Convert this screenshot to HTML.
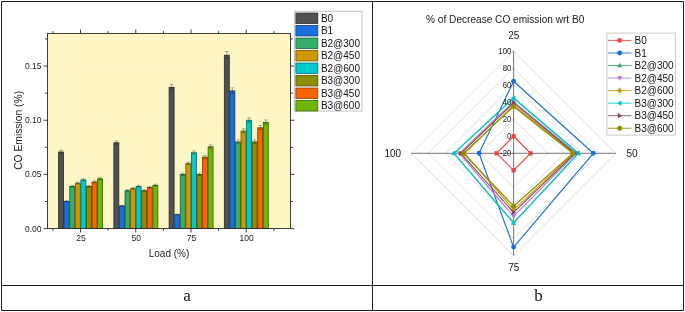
<!DOCTYPE html>
<html><head><meta charset="utf-8"><title>CO emission</title>
<style>html,body{margin:0;padding:0;background:#fff;}body{width:685px;height:312px;overflow:hidden;font-family:"Liberation Sans",sans-serif;}svg{display:block}</style>
</head><body>
<svg width="685" height="312" viewBox="0 0 685 312">
<defs><filter id="bl" x="0" y="0" width="100%" height="100%" color-interpolation-filters="sRGB"><feGaussianBlur stdDeviation="0.32"/></filter></defs>
<g filter="url(#bl)">
<rect width="685" height="312" fill="#fff"/>
<rect x="47.5" y="33.5" width="243.0" height="195.0" fill="#FFF6C6"/>
<path d="M47.5 174.42H290.5M47.5 120.24H290.5M47.5 66.06H290.5M80.50 33.5V228.5M135.75 33.5V228.5M191.00 33.5V228.5M246.20 33.5V228.5" stroke="#EFE8C6" stroke-width="0.7" stroke-dasharray="1 2.3" fill="none"/>
<rect x="58.62" y="152.02" width="4.97" height="76.48" fill="#515151" stroke="#282828" stroke-width="0.8"/>
<rect x="64.19" y="201.54" width="4.97" height="26.96" fill="#1A6FDF" stroke="#0D376F" stroke-width="0.8"/>
<rect x="69.76" y="186.45" width="4.97" height="42.05" fill="#37AD6B" stroke="#1B5635" stroke-width="0.8"/>
<rect x="75.33" y="183.19" width="4.97" height="45.31" fill="#CC9900" stroke="#664C00" stroke-width="0.8"/>
<rect x="80.90" y="179.93" width="4.97" height="48.57" fill="#00CBCC" stroke="#006566" stroke-width="0.8"/>
<rect x="86.47" y="186.45" width="4.97" height="42.05" fill="#8E8E00" stroke="#474700" stroke-width="0.8"/>
<rect x="92.04" y="182.10" width="4.97" height="46.40" fill="#FB6501" stroke="#7D3200" stroke-width="0.8"/>
<rect x="97.61" y="178.84" width="4.97" height="49.66" fill="#6FB802" stroke="#375C01" stroke-width="0.8"/>
<path d="M61.11 150.18V153.26M59.31 150.18h3.6M59.31 153.26h3.6M66.67 200.70V201.79M64.88 200.70h3.6M64.88 201.79h3.6M72.25 185.30V186.99M70.45 185.30h3.6M70.45 186.99h3.6M77.81 181.98V183.80M76.02 181.98h3.6M76.02 183.80h3.6M83.38 178.65V180.61M81.58 178.65h3.6M81.58 180.61h3.6M88.95 185.30V186.99M87.16 185.30h3.6M87.16 186.99h3.6M94.53 180.87V182.74M92.73 180.87h3.6M92.73 182.74h3.6M100.09 177.54V179.54M98.30 177.54h3.6M98.30 179.54h3.6" stroke="#1a1a1a" stroke-width="0.5" fill="none" opacity="0.65"/>
<rect x="113.87" y="142.79" width="4.97" height="85.71" fill="#515151" stroke="#282828" stroke-width="0.8"/>
<rect x="119.44" y="205.99" width="4.97" height="22.51" fill="#1A6FDF" stroke="#0D376F" stroke-width="0.8"/>
<rect x="125.01" y="190.79" width="4.97" height="37.71" fill="#37AD6B" stroke="#1B5635" stroke-width="0.8"/>
<rect x="130.58" y="188.62" width="4.97" height="39.88" fill="#CC9900" stroke="#664C00" stroke-width="0.8"/>
<rect x="136.15" y="186.45" width="4.97" height="42.05" fill="#00CBCC" stroke="#006566" stroke-width="0.8"/>
<rect x="141.72" y="190.79" width="4.97" height="37.71" fill="#8E8E00" stroke="#474700" stroke-width="0.8"/>
<rect x="147.29" y="187.53" width="4.97" height="40.97" fill="#FB6501" stroke="#7D3200" stroke-width="0.8"/>
<rect x="152.86" y="185.36" width="4.97" height="43.14" fill="#6FB802" stroke="#375C01" stroke-width="0.8"/>
<path d="M116.35 140.77V144.21M114.55 140.77h3.6M114.55 144.21h3.6M121.92 205.24V206.15M120.12 205.24h3.6M120.12 206.15h3.6M127.49 189.73V191.25M125.69 189.73h3.6M125.69 191.25h3.6M133.06 187.51V189.12M131.26 187.51h3.6M131.26 189.12h3.6M138.63 185.30V186.99M136.83 185.30h3.6M136.83 186.99h3.6M144.20 189.73V191.25M142.40 189.73h3.6M142.40 191.25h3.6M149.78 186.41V188.06M147.97 186.41h3.6M147.97 188.06h3.6M155.34 184.19V185.93M153.54 184.19h3.6M153.54 185.93h3.6" stroke="#1a1a1a" stroke-width="0.5" fill="none" opacity="0.65"/>
<rect x="169.12" y="87.29" width="4.97" height="141.21" fill="#515151" stroke="#282828" stroke-width="0.8"/>
<rect x="174.69" y="214.68" width="4.97" height="13.82" fill="#1A6FDF" stroke="#0D376F" stroke-width="0.8"/>
<rect x="180.26" y="174.50" width="4.97" height="54.00" fill="#37AD6B" stroke="#1B5635" stroke-width="0.8"/>
<rect x="185.83" y="163.64" width="4.97" height="64.86" fill="#CC9900" stroke="#664C00" stroke-width="0.8"/>
<rect x="191.40" y="152.78" width="4.97" height="75.72" fill="#00CBCC" stroke="#006566" stroke-width="0.8"/>
<rect x="196.97" y="174.50" width="4.97" height="54.00" fill="#8E8E00" stroke="#474700" stroke-width="0.8"/>
<rect x="202.54" y="157.12" width="4.97" height="71.38" fill="#FB6501" stroke="#7D3200" stroke-width="0.8"/>
<rect x="208.11" y="146.81" width="4.97" height="81.69" fill="#6FB802" stroke="#375C01" stroke-width="0.8"/>
<path d="M171.60 84.16V89.82M169.80 84.16h3.6M169.80 89.82h3.6M177.17 214.10V214.66M175.37 214.10h3.6M175.37 214.66h3.6M182.74 173.11V175.29M180.94 173.11h3.6M180.94 175.29h3.6M188.31 162.04V164.64M186.51 162.04h3.6M186.51 164.64h3.6M193.88 150.96V154.00M192.08 150.96h3.6M192.08 154.00h3.6M199.45 173.11V175.29M197.65 173.11h3.6M197.65 175.29h3.6M205.03 155.39V158.26M203.22 155.39h3.6M203.22 158.26h3.6M210.59 144.87V148.15M208.79 144.87h3.6M208.79 148.15h3.6" stroke="#1a1a1a" stroke-width="0.5" fill="none" opacity="0.65"/>
<rect x="224.32" y="55.26" width="4.97" height="173.24" fill="#515151" stroke="#282828" stroke-width="0.8"/>
<rect x="229.89" y="90.88" width="4.97" height="137.62" fill="#1A6FDF" stroke="#0D376F" stroke-width="0.8"/>
<rect x="235.46" y="141.92" width="4.97" height="86.58" fill="#37AD6B" stroke="#1B5635" stroke-width="0.8"/>
<rect x="241.03" y="131.06" width="4.97" height="97.44" fill="#CC9900" stroke="#664C00" stroke-width="0.8"/>
<rect x="246.60" y="120.20" width="4.97" height="108.30" fill="#00CBCC" stroke="#006566" stroke-width="0.8"/>
<rect x="252.17" y="141.92" width="4.97" height="86.58" fill="#8E8E00" stroke="#474700" stroke-width="0.8"/>
<rect x="257.74" y="127.80" width="4.97" height="100.70" fill="#FB6501" stroke="#7D3200" stroke-width="0.8"/>
<rect x="263.31" y="122.37" width="4.97" height="106.13" fill="#6FB802" stroke="#375C01" stroke-width="0.8"/>
<path d="M226.80 51.49V58.43M225.00 51.49h3.6M225.00 58.43h3.6M232.37 87.82V93.34M230.57 87.82h3.6M230.57 93.34h3.6M237.94 139.88V143.36M236.14 139.88h3.6M236.14 143.36h3.6M243.51 128.81V132.71M241.71 128.81h3.6M241.71 132.71h3.6M249.08 117.73V122.07M247.28 117.73h3.6M247.28 122.07h3.6M254.65 139.88V143.36M252.85 139.88h3.6M252.85 143.36h3.6M260.23 125.48V129.52M258.43 125.48h3.6M258.43 129.52h3.6M265.80 119.94V124.20M264.00 119.94h3.6M264.00 124.20h3.6" stroke="#1a1a1a" stroke-width="0.5" fill="none" opacity="0.65"/>
<rect x="47.5" y="33.5" width="243.0" height="195.0" fill="none" stroke="#2a2a2a" stroke-width="0.9"/>
<path d="M47.5 228.60h-4.0M290.5 228.60h4.0M47.5 201.51h-2.4M290.5 201.51h2.4M47.5 174.42h-4.0M290.5 174.42h4.0M47.5 147.33h-2.4M290.5 147.33h2.4M47.5 120.24h-4.0M290.5 120.24h4.0M47.5 93.15h-2.4M290.5 93.15h2.4M47.5 66.06h-4.0M290.5 66.06h4.0M47.5 38.97h-2.4M290.5 38.97h2.4M52.88 228.5v2.4M52.88 33.5v-2.4M80.50 228.5v4.0M80.50 33.5v-4.0M108.12 228.5v2.4M108.12 33.5v-2.4M135.75 228.5v4.0M135.75 33.5v-4.0M163.38 228.5v2.4M163.38 33.5v-2.4M191.00 228.5v4.0M191.00 33.5v-4.0M218.62 228.5v2.4M218.62 33.5v-2.4M246.25 228.5v4.0M246.25 33.5v-4.0M273.88 228.5v2.4M273.88 33.5v-2.4" stroke="#2a2a2a" stroke-width="0.9" fill="none"/>
<text x="41.5" y="231.50" font-size="9" text-anchor="end" textLength="16.5" lengthAdjust="spacingAndGlyphs" font-family="Liberation Sans, sans-serif" fill="#1a1a1a">0.00</text>
<text x="41.5" y="177.32" font-size="9" text-anchor="end" textLength="16.5" lengthAdjust="spacingAndGlyphs" font-family="Liberation Sans, sans-serif" fill="#1a1a1a">0.05</text>
<text x="41.5" y="123.14" font-size="9" text-anchor="end" textLength="16.5" lengthAdjust="spacingAndGlyphs" font-family="Liberation Sans, sans-serif" fill="#1a1a1a">0.10</text>
<text x="41.5" y="68.96" font-size="9" text-anchor="end" textLength="16.5" lengthAdjust="spacingAndGlyphs" font-family="Liberation Sans, sans-serif" fill="#1a1a1a">0.15</text>
<text x="80.90" y="241.3" font-size="9" text-anchor="middle" textLength="9.44" lengthAdjust="spacingAndGlyphs" font-family="Liberation Sans, sans-serif" fill="#1a1a1a">25</text>
<text x="136.15" y="241.3" font-size="9" text-anchor="middle" textLength="9.44" lengthAdjust="spacingAndGlyphs" font-family="Liberation Sans, sans-serif" fill="#1a1a1a">50</text>
<text x="191.40" y="241.3" font-size="9" text-anchor="middle" textLength="9.44" lengthAdjust="spacingAndGlyphs" font-family="Liberation Sans, sans-serif" fill="#1a1a1a">75</text>
<text x="246.60" y="241.3" font-size="9" text-anchor="middle" textLength="14.16" lengthAdjust="spacingAndGlyphs" font-family="Liberation Sans, sans-serif" fill="#1a1a1a">100</text>
<text x="169" y="257.1" font-size="10" text-anchor="middle" font-family="Liberation Sans, sans-serif" fill="#1a1a1a">Load (%)</text>
<text transform="translate(21.6 130.4) rotate(-90)" font-size="10.3" text-anchor="middle" font-family="Liberation Sans, sans-serif" fill="#1a1a1a">CO Emission (%)</text>
<rect x="294.5" y="11.3" width="67.5" height="99.8" fill="#fff" stroke="#BDBDBD" stroke-width="0.9"/>
<rect x="295.9" y="13.05" width="21.9" height="10.4" fill="#515151" stroke="#2C2C2C" stroke-width="0.8"/>
<text x="320.9" y="21.75" font-size="10" font-family="Liberation Sans, sans-serif" fill="#111">B0</text>
<rect x="295.9" y="25.55" width="21.9" height="10.4" fill="#1A6FDF" stroke="#0E3D7A" stroke-width="0.8"/>
<text x="320.9" y="34.25" font-size="10" font-family="Liberation Sans, sans-serif" fill="#111">B1</text>
<rect x="295.9" y="38.05" width="21.9" height="10.4" fill="#37AD6B" stroke="#1E5F3A" stroke-width="0.8"/>
<text x="320.9" y="46.75" font-size="10" font-family="Liberation Sans, sans-serif" fill="#111">B2@300</text>
<rect x="295.9" y="50.55" width="21.9" height="10.4" fill="#CC9900" stroke="#705400" stroke-width="0.8"/>
<text x="320.9" y="59.25" font-size="10" font-family="Liberation Sans, sans-serif" fill="#111">B2@450</text>
<rect x="295.9" y="63.05" width="21.9" height="10.4" fill="#00CBCC" stroke="#006F70" stroke-width="0.8"/>
<text x="320.9" y="71.75" font-size="10" font-family="Liberation Sans, sans-serif" fill="#111">B2@600</text>
<rect x="295.9" y="75.55" width="21.9" height="10.4" fill="#8E8E00" stroke="#4E4E00" stroke-width="0.8"/>
<text x="320.9" y="84.25" font-size="10" font-family="Liberation Sans, sans-serif" fill="#111">B3@300</text>
<rect x="295.9" y="88.05" width="21.9" height="10.4" fill="#FB6501" stroke="#8A3700" stroke-width="0.8"/>
<text x="320.9" y="96.75" font-size="10" font-family="Liberation Sans, sans-serif" fill="#111">B3@450</text>
<rect x="295.9" y="100.55" width="21.9" height="10.4" fill="#6FB802" stroke="#3D6501" stroke-width="0.8"/>
<text x="320.9" y="109.25" font-size="10" font-family="Liberation Sans, sans-serif" fill="#111">B3@600</text>
<path d="M513.6 136.25L530.65 153.3L513.6 170.35L496.55 153.3ZM513.6 119.20L547.70 153.3L513.6 187.40L479.50 153.3ZM513.6 102.15L564.75 153.3L513.6 204.45L462.45 153.3ZM513.6 85.10L581.80 153.3L513.6 221.50L445.40 153.3ZM513.6 68.05L598.85 153.3L513.6 238.55L428.35 153.3ZM513.6 51.00L615.90 153.3L513.6 255.60L411.30 153.3Z" stroke="#D6D6D6" stroke-width="0.8" fill="none"/>
<path d="M513.6 51.00V255.60M411.30 153.3H615.90" stroke="#666" stroke-width="0.9" fill="none"/>
<path d="M513.6 153.30h-1.0M513.6 136.25h-1.0M513.6 119.20h-1.0M513.6 102.15h-1.0M513.6 85.10h-1.0M513.6 68.05h-1.0M513.6 51.00h-1.0" stroke="#6a6a6a" stroke-width="0.6" fill="none"/>
<path d="M513.60 136.25L530.65 153.30L513.60 170.35L496.55 153.30Z" stroke="#F14040" stroke-width="1.15" fill="none" stroke-linejoin="round"/>
<rect x="511.50" y="134.15" width="4.2" height="4.2" fill="#F14040"/>
<rect x="528.55" y="151.20" width="4.2" height="4.2" fill="#F14040"/>
<rect x="511.50" y="168.25" width="4.2" height="4.2" fill="#F14040"/>
<rect x="494.45" y="151.20" width="4.2" height="4.2" fill="#F14040"/>
<path d="M513.60 81.27L593.30 153.30L513.60 247.09L479.05 153.30Z" stroke="#1A6FDF" stroke-width="1.15" fill="none" stroke-linejoin="round"/>
<circle cx="513.60" cy="81.27" r="2.45" fill="#1A6FDF"/>
<circle cx="593.30" cy="153.30" r="2.45" fill="#1A6FDF"/>
<circle cx="513.60" cy="247.09" r="2.45" fill="#1A6FDF"/>
<circle cx="479.05" cy="153.30" r="2.45" fill="#1A6FDF"/>
<path d="M513.60 98.03L578.23 153.30L513.60 222.89L453.98 153.30Z" stroke="#37AD6B" stroke-width="1.15" fill="none" stroke-linejoin="round"/>
<path d="M513.60 95.33l2.6 4.5h-5.2z" fill="#37AD6B"/>
<path d="M578.23 150.60l2.6 4.5h-5.2z" fill="#37AD6B"/>
<path d="M513.60 220.19l2.6 4.5h-5.2z" fill="#37AD6B"/>
<path d="M453.98 150.60l2.6 4.5h-5.2z" fill="#37AD6B"/>
<path d="M513.60 101.64L576.07 153.30L513.60 216.34L459.31 153.30Z" stroke="#B177DE" stroke-width="1.15" fill="none" stroke-linejoin="round"/>
<path d="M513.60 104.34l2.6 -4.5h-5.2z" fill="#B177DE"/>
<path d="M576.07 156.00l2.6 -4.5h-5.2z" fill="#B177DE"/>
<path d="M513.60 219.04l2.6 -4.5h-5.2z" fill="#B177DE"/>
<path d="M459.31 156.00l2.6 -4.5h-5.2z" fill="#B177DE"/>
<path d="M513.60 105.26L573.92 153.30L513.60 209.80L464.65 153.30Z" stroke="#CC9900" stroke-width="1.15" fill="none" stroke-linejoin="round"/>
<path d="M513.60 102.46l2.5 2.8l-2.5 2.8l-2.5 -2.8z" fill="#CC9900"/>
<path d="M573.92 150.50l2.5 2.8l-2.5 2.8l-2.5 -2.8z" fill="#CC9900"/>
<path d="M513.60 207.00l2.5 2.8l-2.5 2.8l-2.5 -2.8z" fill="#CC9900"/>
<path d="M464.65 150.50l2.5 2.8l-2.5 2.8l-2.5 -2.8z" fill="#CC9900"/>
<path d="M513.60 98.03L578.23 153.30L513.60 222.89L453.98 153.30Z" stroke="#00CBCC" stroke-width="1.15" fill="none" stroke-linejoin="round"/>
<path d="M510.90 98.03l4.5 -2.6v5.2z" fill="#00CBCC"/>
<path d="M575.53 153.30l4.5 -2.6v5.2z" fill="#00CBCC"/>
<path d="M510.90 222.89l4.5 -2.6v5.2z" fill="#00CBCC"/>
<path d="M451.28 153.30l4.5 -2.6v5.2z" fill="#00CBCC"/>
<path d="M513.60 102.85L575.00 153.30L513.60 212.42L460.91 153.30Z" stroke="#7D4E4E" stroke-width="1.15" fill="none" stroke-linejoin="round"/>
<path d="M516.30 102.85l-4.5 -2.6v5.2z" fill="#7D4E4E"/>
<path d="M577.70 153.30l-4.5 -2.6v5.2z" fill="#7D4E4E"/>
<path d="M516.30 212.42l-4.5 -2.6v5.2z" fill="#7D4E4E"/>
<path d="M463.61 153.30l-4.5 -2.6v5.2z" fill="#7D4E4E"/>
<path d="M513.60 106.47L572.84 153.30L513.60 206.20L463.58 153.30Z" stroke="#8E8E00" stroke-width="1.15" fill="none" stroke-linejoin="round"/>
<circle cx="513.60" cy="106.47" r="2.5" fill="#8E8E00"/>
<circle cx="572.84" cy="153.30" r="2.5" fill="#8E8E00"/>
<circle cx="513.60" cy="206.20" r="2.5" fill="#8E8E00"/>
<circle cx="463.58" cy="153.30" r="2.5" fill="#8E8E00"/>
<text x="511.40" y="156.05" font-size="8.4" text-anchor="end" textLength="11.29" lengthAdjust="spacingAndGlyphs" font-family="Liberation Sans, sans-serif" fill="#222">-20</text>
<text x="511.40" y="139.00" font-size="8.4" text-anchor="end" textLength="4.34" lengthAdjust="spacingAndGlyphs" font-family="Liberation Sans, sans-serif" fill="#222">0</text>
<text x="511.40" y="121.95" font-size="8.4" text-anchor="end" textLength="8.69" lengthAdjust="spacingAndGlyphs" font-family="Liberation Sans, sans-serif" fill="#222">20</text>
<text x="511.40" y="104.90" font-size="8.4" text-anchor="end" textLength="8.69" lengthAdjust="spacingAndGlyphs" font-family="Liberation Sans, sans-serif" fill="#222">40</text>
<text x="511.40" y="87.85" font-size="8.4" text-anchor="end" textLength="8.69" lengthAdjust="spacingAndGlyphs" font-family="Liberation Sans, sans-serif" fill="#222">60</text>
<text x="511.40" y="70.80" font-size="8.4" text-anchor="end" textLength="8.69" lengthAdjust="spacingAndGlyphs" font-family="Liberation Sans, sans-serif" fill="#222">80</text>
<text x="511.40" y="53.75" font-size="8.4" text-anchor="end" textLength="13.03" lengthAdjust="spacingAndGlyphs" font-family="Liberation Sans, sans-serif" fill="#222">100</text>
<text x="505.2" y="22.9" font-size="10.1" text-anchor="middle" font-family="Liberation Sans, sans-serif" fill="#1a1a1a">% of Decrease CO emission wrt B0</text>
<text x="513.8" y="39.2" font-size="10" text-anchor="middle" font-family="Liberation Sans, sans-serif" fill="#1a1a1a">25</text>
<text x="632" y="156.7" font-size="10" text-anchor="middle" font-family="Liberation Sans, sans-serif" fill="#1a1a1a">50</text>
<text x="513.8" y="270.8" font-size="10" text-anchor="middle" font-family="Liberation Sans, sans-serif" fill="#1a1a1a">75</text>
<text x="392.8" y="156.7" font-size="10" text-anchor="middle" font-family="Liberation Sans, sans-serif" fill="#1a1a1a">100</text>
<rect x="606.9" y="33.1" width="68.5" height="102" fill="#fff" stroke="#C4C4C4" stroke-width="0.9"/>
<path d="M608.1 40.40H631.5" stroke="#F14040" stroke-width="0.85"/>
<rect x="617.60" y="38.30" width="4.2" height="4.2" fill="#F14040"/>
<text x="634.6" y="44.00" font-size="10" font-family="Liberation Sans, sans-serif" fill="#111">B0</text>
<path d="M608.1 52.95H631.5" stroke="#1A6FDF" stroke-width="0.85"/>
<circle cx="619.70" cy="52.95" r="2.45" fill="#1A6FDF"/>
<text x="634.6" y="56.55" font-size="10" font-family="Liberation Sans, sans-serif" fill="#111">B1</text>
<path d="M608.1 65.50H631.5" stroke="#37AD6B" stroke-width="0.85"/>
<path d="M619.70 62.80l2.6 4.5h-5.2z" fill="#37AD6B"/>
<text x="634.6" y="69.10" font-size="10" font-family="Liberation Sans, sans-serif" fill="#111">B2@300</text>
<path d="M608.1 78.05H631.5" stroke="#B177DE" stroke-width="0.85"/>
<path d="M619.70 80.75l2.6 -4.5h-5.2z" fill="#B177DE"/>
<text x="634.6" y="81.65" font-size="10" font-family="Liberation Sans, sans-serif" fill="#111">B2@450</text>
<path d="M608.1 90.60H631.5" stroke="#CC9900" stroke-width="0.85"/>
<path d="M619.70 87.80l2.5 2.8l-2.5 2.8l-2.5 -2.8z" fill="#CC9900"/>
<text x="634.6" y="94.20" font-size="10" font-family="Liberation Sans, sans-serif" fill="#111">B2@600</text>
<path d="M608.1 103.15H631.5" stroke="#00CBCC" stroke-width="0.85"/>
<path d="M617.00 103.15l4.5 -2.6v5.2z" fill="#00CBCC"/>
<text x="634.6" y="106.75" font-size="10" font-family="Liberation Sans, sans-serif" fill="#111">B3@300</text>
<path d="M608.1 115.70H631.5" stroke="#7D4E4E" stroke-width="0.85"/>
<path d="M622.40 115.70l-4.5 -2.6v5.2z" fill="#7D4E4E"/>
<text x="634.6" y="119.30" font-size="10" font-family="Liberation Sans, sans-serif" fill="#111">B3@450</text>
<path d="M608.1 128.25H631.5" stroke="#8E8E00" stroke-width="0.85"/>
<circle cx="619.70" cy="128.25" r="2.5" fill="#8E8E00"/>
<text x="634.6" y="131.85" font-size="10" font-family="Liberation Sans, sans-serif" fill="#111">B3@600</text>
<path d="M1.5 1.5H683.5V310.5H1.5ZM1.5 285.5H683.5M372.5 1.5V310.5" stroke="#1c1c1c" stroke-width="1" fill="none"/>
<text x="187.1" y="301" font-size="17" text-anchor="middle" font-family="Liberation Serif, serif" fill="#111">a</text>
<text x="538.4" y="301" font-size="17" text-anchor="middle" font-family="Liberation Serif, serif" fill="#111">b</text>
</g>
</svg>
</body></html>
